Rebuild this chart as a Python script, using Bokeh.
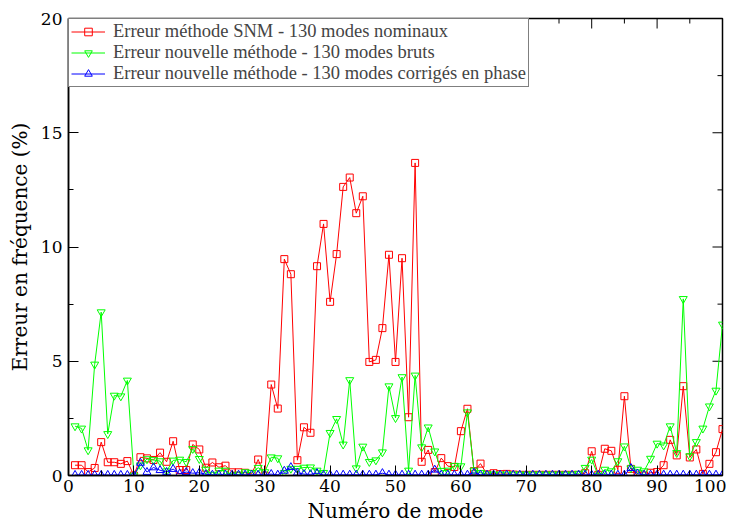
import math
from bokeh.plotting import figure
from bokeh.models import Range1d, FixedTicker
from bokeh.embed import file_html
from bokeh.resources import INLINE

modes = list(range(1, 101))

err_snm = [0.45, 0.45, 0.15, 0.33, 1.46, 0.58, 0.58, 0.51, 0.63, 0.0,
           0.80, 0.75, 0.68, 1.00, 0.60, 1.50, 0.24, 0.24, 1.36, 1.14,
           0.34, 0.57, 0.36, 0.43, 0.14, 0.14, 0.12, 0.07, 0.70, 0.0,
           3.98, 2.93, 9.47, 8.81, 0.67, 2.11, 1.87, 9.16, 11.01, 7.60,
           9.69, 12.63, 13.04, 11.48, 12.22, 4.97, 5.06, 6.45, 9.66, 4.97,
           9.51, 2.55, 13.68, 0.60, 1.12, 0.15, 0.76, 0.41, 0.37, 1.94,
           2.92, 0.19, 0.52, 0.05, 0.10, 0.06, 0.07, 0.04, 0.03, 0.03,
           0.03, 0.03, 0.03, 0.03, 0.03, 0.03, 0.03, 0.03, 0.10, 1.06,
           0.03, 1.17, 1.08, 0.25, 3.47, 0.29, 0.0, 0.0, 0.12, 0.15,
           0.45, 1.56, 0.88, 3.91, 0.79, 1.14, 0.07, 0.51, 1.02, 2.03]

err_bruts = [2.16, 2.06, 1.11, 4.86, 7.15, 1.82, 3.50, 3.47, 4.16, 0.0,
             0.45, 0.72, 0.68, 0.63, 0.19, 0.66, 0.70, 0.60, 1.17, 0.73,
             0.26, 0.04, 0.22, 0.22, 0.0, 0.05, 0.15, 0.12, 0.34, 0.15,
             0.80, 0.76, 0.12, 0.30, 0.30, 0.35, 0.36, 0.22, 0.12, 1.87,
             2.48, 1.36, 4.18, 0.32, 1.27, 0.60, 0.67, 1.02, 3.91, 2.52,
             4.31, 0.22, 4.38, 1.24, 2.11, 1.06, 0.21, 0.22, 0.43, 0.41,
             2.77, 0.22, 0.12, 0.06, 0.05, 0.05, 0.05, 0.05, 0.05, 0.05,
             0.05, 0.05, 0.05, 0.05, 0.05, 0.05, 0.05, 0.08, 0.34, 0.70,
             0.0, 0.26, 0.19, 0.63, 1.28, 0.32, 0.26, 0.19, 0.74, 1.40,
             1.32, 2.16, 0.99, 7.73, 0.85, 1.47, 2.06, 3.03, 3.72, 6.61]

err_phase = [0.02, 0.02, 0.02, 0.02, 0.02, 0.02, 0.02, 0.02, 0.02, 0.0,
             0.55, 0.15, 0.35, 0.23, 0.15, 0.28, 0.08, 0.15, 0.10, 0.12,
             0.05, 0.03, 0.03, 0.03, 0.03, 0.03, 0.03, 0.03, 0.03, 0.03,
             0.06, 0.03, 0.20, 0.36, 0.12, 0.06, 0.05, 0.10, 0.02, 0.03,
             0.03, 0.03, 0.03, 0.03, 0.03, 0.03, 0.03, 0.10, 0.03, 0.03,
             0.03, 0.03, 0.03, 0.03, 0.03, 0.25, 0.03, 0.03, 0.03, 0.03,
             0.03, 0.12, 0.03, 0.03, 0.03, 0.03, 0.03, 0.03, 0.03, 0.03,
             0.03, 0.03, 0.03, 0.03, 0.03, 0.03, 0.03, 0.03, 0.03, 0.03,
             0.03, 0.03, 0.03, 0.03, 0.03, 0.32, 0.08, 0.03, 0.03, 0.03,
             0.03, 0.03, 0.03, 0.03, 0.03, 0.03, 0.03, 0.03, 0.03, 0.03]

x_ticks = [0, 10, 20, 30, 40, 50, 60, 70, 80, 90, 100]
y_ticks = [0, 5, 10, 15, 20]
x_minor = [5, 15, 25, 35, 45, 55, 65, 75, 85, 95]
y_minor = [2.5, 7.5, 12.5, 17.5]
x_max = 100
y_max = 20

FONT = "'Liberation Serif', 'Times New Roman', serif"
AXFONT = "DejaVu Serif"

p = figure(frame_width=654, frame_height=457, output_backend="svg", toolbar_location=None,
           x_range=Range1d(0, x_max), y_range=Range1d(0, y_max),
           min_border_left=68, min_border_top=18, min_border_right=4, min_border_bottom=30)
p.grid.visible = False
p.outline_line_color = "black"
p.outline_line_width = 1.5
p.background_fill_color = "white"

# mirrored inward ticks on the top and right edges
p.ray(x=x_ticks, y=[y_max] * len(x_ticks), length=10, length_units="screen",
      angle=-math.pi / 2, line_color="black", line_width=1)
p.ray(x=x_minor, y=[y_max] * len(x_minor), length=5, length_units="screen",
      angle=-math.pi / 2, line_color="black", line_width=1)
p.ray(x=[x_max] * len(y_ticks), y=y_ticks, length=10, length_units="screen",
      angle=math.pi, line_color="black", line_width=1)
p.ray(x=[x_max] * len(y_minor), y=y_minor, length=5, length_units="screen",
      angle=math.pi, line_color="black", line_width=1)

L1 = "Erreur méthode SNM - 130 modes nominaux"
L2 = "Erreur nouvelle méthode - 130 modes bruts"
L3 = "Erreur nouvelle méthode - 130 modes corrigés en phase"

p.line(modes, err_snm, color="#ff0000", line_width=1, legend_label=L1)
p.scatter(modes, err_snm, marker="square", size=7, line_color="#ff0000", fill_color=None,
          line_width=1, legend_label=L1)
p.line(modes, err_bruts, color="#00ff00", line_width=1, legend_label=L2)
p.scatter(modes, err_bruts, marker="inverted_triangle", size=8, line_color="#00ff00", fill_color=None,
          line_width=1, legend_label=L2)
p.line(modes, err_phase, color="#0000ff", line_width=1, legend_label=L3)
p.scatter(modes, err_phase, marker="triangle", size=8, line_color="#0000ff", fill_color=None,
          line_width=1, legend_label=L3)

p.xaxis.ticker = FixedTicker(ticks=x_ticks, minor_ticks=x_minor)
p.yaxis.ticker = FixedTicker(ticks=y_ticks, minor_ticks=y_minor)

for ax in p.axis:
    ax.major_tick_in = 10
    ax.major_tick_out = 0
    ax.minor_tick_in = 5
    ax.minor_tick_out = 0
    ax.axis_line_color = "black"
    ax.axis_line_width = 1.5
    ax.major_tick_line_color = "black"
    ax.minor_tick_line_color = "black"
    ax.major_label_text_font = AXFONT
    ax.major_label_text_font_size = "17px"
    ax.major_label_text_color = "black"
    ax.axis_label_text_font = AXFONT
    ax.axis_label_text_font_size = "20px"
    ax.axis_label_text_font_style = "normal"
    ax.axis_label_text_color = "black"

p.xaxis.axis_label = "Numéro de mode"
p.xaxis.major_label_standoff = 4
p.xaxis.axis_label_standoff = 4
p.yaxis.axis_label = "Erreur en fréquence (%)"
p.yaxis.major_label_standoff = 6
p.yaxis.axis_label_standoff = 6

lg = p.legend[0]
lg.location = "top_left"
lg.margin = 0
lg.padding = 2
lg.spacing = 0
lg.border_line_color = "black"
lg.border_line_width = 1
lg.background_fill_color = "white"
lg.background_fill_alpha = 1
lg.label_text_font = FONT
lg.label_text_font_size = "18.5px"
lg.label_height = 19
lg.glyph_height = 19
lg.glyph_width = 34
lg.label_standoff = 8

open("out.html", "w").write(file_html(p, INLINE))
